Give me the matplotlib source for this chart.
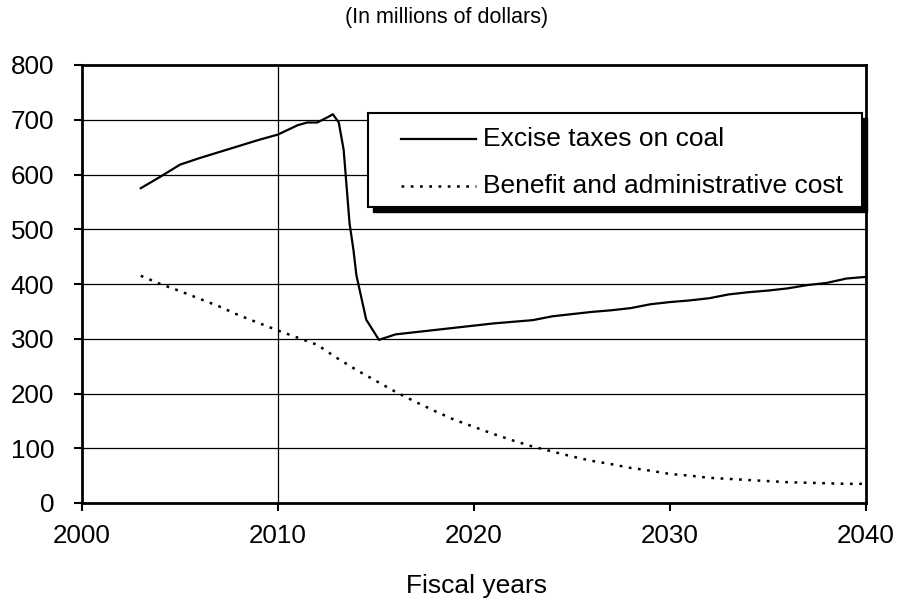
import matplotlib
matplotlib.use("Agg")
import matplotlib.pyplot as plt
from matplotlib.patches import Rectangle
from matplotlib.lines import Line2D

plt.rcParams['font.family'] = ['Liberation Sans', 'DejaVu Sans']

# Excise tax receipts on coal (millions of dollars)
excise_years = [2003, 2004, 2005, 2006, 2007, 2008, 2009, 2010, 2011, 2011.5,
                2012, 2012.5, 2012.8, 2013.1, 2013.35, 2013.65, 2013.85, 2014.0,
                2014.5, 2015.15, 2016, 2017, 2018, 2019, 2020, 2021, 2022, 2023,
                2024, 2025, 2026, 2027, 2028, 2029, 2030, 2031, 2032, 2033, 2034,
                2035, 2036, 2037, 2038, 2039, 2040]
excise_values = [575, 596, 618, 630, 641, 652, 663, 673, 690, 695,
                 695, 704, 710, 695, 645, 511, 462, 416,
                 335, 298, 308, 312, 316, 320, 324, 328, 331, 334,
                 341, 345, 349, 352, 356, 363, 367, 370, 374, 381, 385,
                 388, 392, 398, 402, 410, 413]

# Benefit and administrative cost (millions of dollars)
benefit_years = list(range(2003, 2041))
benefit_values = [415, 400, 387, 373, 359, 343, 329, 315, 302, 289,
                  265, 243, 223, 203, 185, 168, 152, 139, 126, 114,
                  103, 94, 85, 77, 71, 64, 59, 53, 50, 46,
                  44, 42, 40, 38, 37, 36, 35, 35]

x_ticks = [2000, 2010, 2020, 2030, 2040]
y_ticks = [0, 100, 200, 300, 400, 500, 600, 700, 800]
series_labels = ["Excise taxes on coal", "Benefit and administrative cost"]

W, H = 899, 601
fig = plt.figure(figsize=(W / 100, H / 100), dpi=100)


def fx(px):
    return px / W


def fy(py):
    return 1 - py / H


ax_left, ax_right, ax_top, ax_bottom = 82, 866, 65, 503
ax = fig.add_axes([fx(ax_left), fy(ax_bottom), fx(ax_right - ax_left),
                   (ax_bottom - ax_top) / H])

ax.set_xlim(2000, 2040)
ax.set_ylim(0, 800)

# horizontal grid and the single vertical reference line
for v in y_ticks[1:-1]:
    ax.axhline(v, color='black', lw=0.9, zorder=1)
ax.axvline(2010, color='black', lw=0.9, zorder=1)

ax.plot(excise_years, excise_values, color='black', lw=1.6,
        solid_joinstyle='round', zorder=3)
ax.plot(benefit_years, benefit_values, color='black', lw=1.8,
        linestyle=(0, (1.1, 2.6)), zorder=3)

for side in ['left', 'right', 'top', 'bottom']:
    ax.spines[side].set_linewidth(2.0)
    ax.spines[side].set_color('black')

ax.set_xticks(x_ticks)
ax.set_yticks(y_ticks)
ax.tick_params(axis='both', direction='out', length=6, width=1.5,
               labelsize=18.7, colors='black')
ax.tick_params(axis='y', pad=14)
ax.tick_params(axis='x', pad=9)

fig.text(fx(476), fy(586), "Fiscal years", ha='center', va='center',
         fontsize=19)
fig.text(fx(446.5), fy(18), "(In millions of dollars)", ha='center',
         va='center', fontsize=15.5)

# legend box with solid drop shadow
lx0, ly0, lx1, ly1 = 368, 113, 862, 207
shadow_off = 5
fig.patches.append(Rectangle((fx(lx0 + shadow_off), fy(ly1 + shadow_off)),
                             fx(lx1 - lx0), (ly1 - ly0) / H,
                             transform=fig.transFigure, facecolor='black',
                             edgecolor='black', zorder=5))
fig.patches.append(Rectangle((fx(lx0), fy(ly1)), fx(lx1 - lx0), (ly1 - ly0) / H,
                             transform=fig.transFigure, facecolor='white',
                             edgecolor='black', lw=1.5, zorder=6))
rows = [139, 186]
styles = [dict(lw=1.6, linestyle='-'), dict(lw=1.8, linestyle=(0, (1.1, 2.6)))]
for ry, lab, st in zip(rows, series_labels, styles):
    fig.lines.append(Line2D([fx(401), fx(476)], [fy(ry), fy(ry)],
                            transform=fig.transFigure, color='black',
                            zorder=7, **st))
    fig.text(fx(483), fy(ry), lab, ha='left', va='center', fontsize=19,
             zorder=8)

fig.savefig("out.png", dpi=100)
